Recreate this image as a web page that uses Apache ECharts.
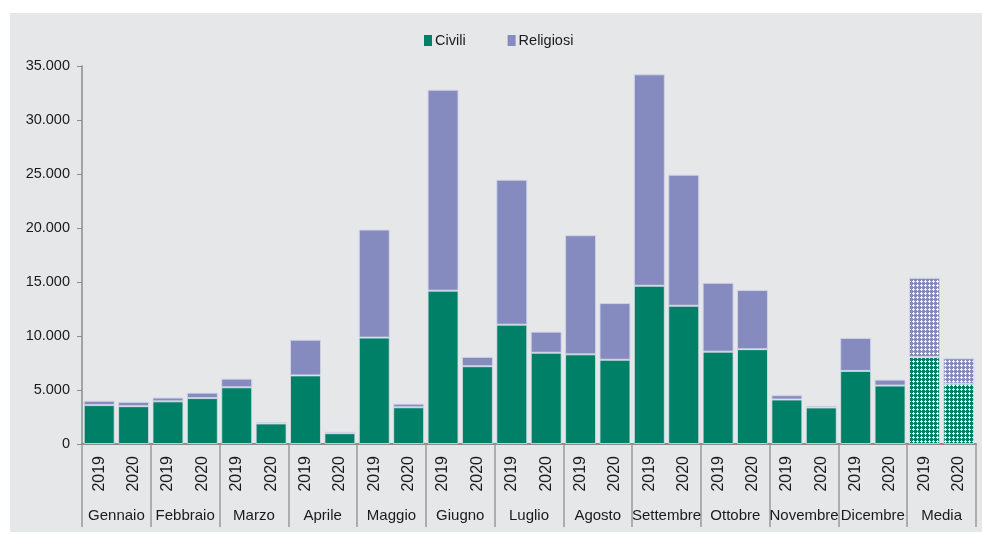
<!DOCTYPE html>
<html>
<head>
<meta charset="utf-8">
<script src="https://cdn.jsdelivr.net/npm/echarts@6/dist/echarts.min.js"></script>
<style>html,body{margin:0;padding:0;background:#fff}#c{width:982px;height:534px}</style>
</head>
<body>
<div id="c"></div>
<script>
const months = ['Gennaio','Febbraio','Marzo','Aprile','Maggio','Giugno','Luglio','Agosto','Settembre','Ottobre','Novembre','Dicembre','Media'];
const years = ['2019','2020'];
const civili = [3600,3500, 3950,4250, 5250,1900, 6350,1000, 9850,3400, 14200,7200, 11050,8450, 8300,7800, 14650,12800, 8550,8780, 4120,3380, 6770,5410, 8050,5570];
const religiosi = [400,400, 350,500, 800,130, 3300,130, 10000,330, 18600,860, 13420,1950, 11030,5250, 19580,12130, 6370,5470, 400,160, 3050,550, 7340,2370];
const yTicks = [0,5000,10000,15000,20000,25000,30000,35000];

const GREEN = '#008066';
const LAV = '#858bbf';
const FONT = "'Liberation Sans', Arial, sans-serif";

function pattern(color) {
  const c = document.createElement('canvas');
  c.width = 4; c.height = 4;
  const g = c.getContext('2d');
  g.fillStyle = color;
  g.fillRect(0,0,4,4);
  g.fillStyle = '#f2f3f7';
  [[1,0],[0,1],[1,1],[2,1],[1,2]].forEach(p => g.fillRect(p[0], p[1], 1, 1));
  return {image: c, repeat: 'repeat'};
}

const cats = [];
months.forEach(m => years.forEach(y => cats.push(m + ' ' + y)));
const mediaStart = (months.length - 1) * 2;

function seriesData(vals, color) {
  return vals.map((v, i) => i >= mediaStart
    ? {value: v, itemStyle: {color: pattern(color)}}
    : v);
}

const chart = echarts.init(document.getElementById('c'));
chart.setOption({
  backgroundColor: '#ffffff',
  animation: false,
  graphic: [{type: 'rect', shape: {x: 10, y: 13, width: 972, height: 519}, style: {fill: '#e6e7e9'}, z: -10, silent: true}],
  textStyle: {fontFamily: FONT},
  legend: {
    left: 419, top: 28,
    itemWidth: 8, itemHeight: 11, itemGap: 42,
    icon: 'rect',
    itemStyle: {borderWidth: 0},
    textStyle: {fontFamily: FONT, fontSize: 14.5, color: '#1a1a1a', padding: [0,0,0,-2]},
    data: ['Civili','Religiosi']
  },
  grid: {left: 82, right: 6, top: 66, bottom: 90, containLabel: false},
  xAxis: [{
    type: 'category',
    data: cats,
    boundaryGap: true,
    axisLine: {lineStyle: {color: '#8c8c8c', width: 2}},
    axisTick: {show: false},
    axisLabel: {
      rotate: 90, margin: 12, interval: 0,
      fontFamily: FONT, fontSize: 16, color: '#1a1a1a',
      formatter: v => v.split(' ')[1]
    }
  }, {
    type: 'category',
    data: months,
    position: 'bottom',
    offset: 0,
    boundaryGap: true,
    axisLine: {show: false},
    axisTick: {show: true, length: 83, lineStyle: {color: '#9a9a9a', width: 1.5}},
    axisLabel: {margin: 64, interval: 0, fontFamily: FONT, fontSize: 15, color: '#1a1a1a'}
  }],
  yAxis: {
    type: 'value',
    min: 0, max: 35000, interval: 5000,
    splitLine: {show: false},
    axisLine: {show: true, lineStyle: {color: '#8c8c8c', width: 1.5}},
    axisTick: {show: true, inside: false, length: 5, lineStyle: {color: '#8c8c8c'}},
    axisLabel: {
      margin: 12, fontFamily: FONT, fontSize: 14.5, color: '#1a1a1a',
      formatter: v => yTicks.includes(v) ? v.toString().replace(/\B(?=(\d{3})+(?!\d))/g, '.') : ''
    }
  },
  series: [{
    name: 'Civili', type: 'bar', stack: 'tot', xAxisIndex: 0,
    barCategoryGap: '10%',
    itemStyle: {color: GREEN, borderColor: 'rgba(220,222,235,0.8)', borderWidth: 1},
    data: seriesData(civili, GREEN)
  }, {
    name: 'Religiosi', type: 'bar', stack: 'tot', xAxisIndex: 0,
    barCategoryGap: '10%',
    itemStyle: {color: LAV, borderColor: 'rgba(210,212,232,0.9)', borderWidth: 1},
    data: seriesData(religiosi, LAV)
  }]
});
</script>
</body>
</html>
